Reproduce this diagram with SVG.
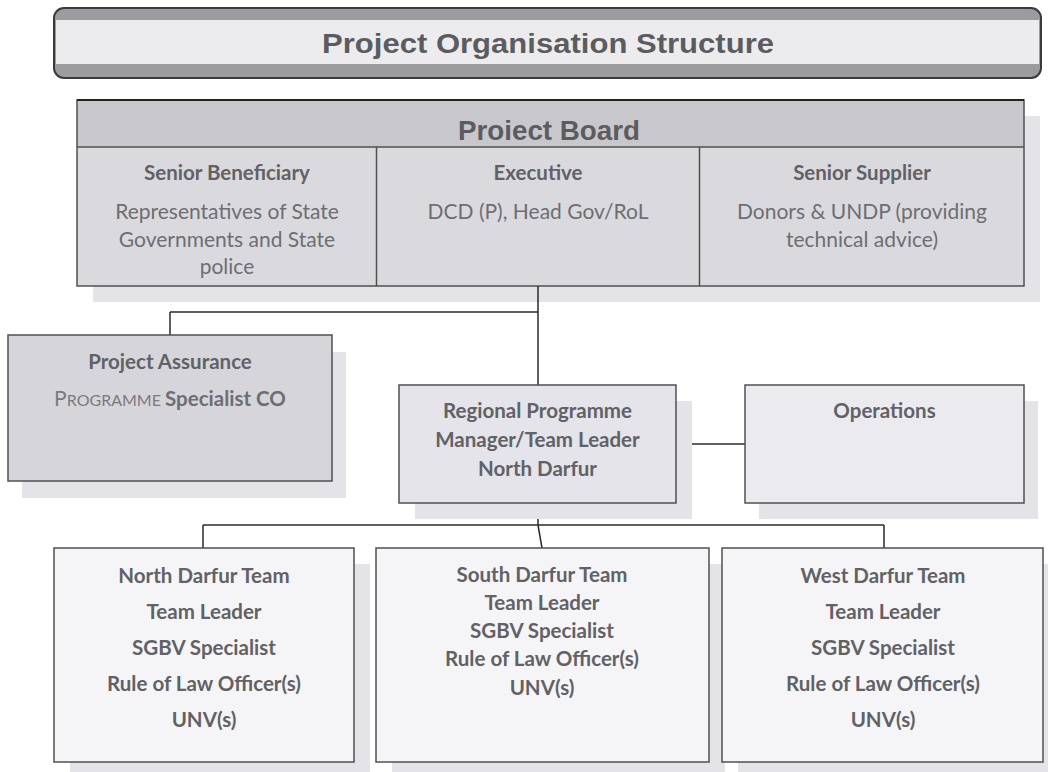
<svg xmlns="http://www.w3.org/2000/svg" width="1048" height="772" viewBox="0 0 1048 772">
<style>
  .t { font-family: Lato, "Open Sans", "Liberation Sans", sans-serif; font-size: 21px; fill: #6e6e72; text-anchor: middle; }
  .b { font-weight: bold; font-size: 20.5px; fill: #616166; }
  .box { stroke: #505050; stroke-width: 1.5; }
  .sh { fill: #e3e3e8; }
  .conn { fill: none; stroke: #2a2a2a; stroke-width: 1.5; }
  .h { font-family: "Liberation Sans", Arial, sans-serif; font-weight: bold; fill: #5c5c60; text-anchor: middle; }
</style>
<rect width="1048" height="772" fill="#ffffff"/>

<g id="title">
  <rect x="54" y="8" width="987" height="70" rx="10" fill="#9c9ca0" stroke="#3a3a3a" stroke-width="2"/>
  <rect x="56" y="20" width="983" height="44" fill="#ececee"/>
  <text class="h" x="548" y="53" font-size="28" textLength="452" lengthAdjust="spacingAndGlyphs">Project Organisation Structure</text>
</g>

<g id="project-board">
  <rect class="sh" x="93" y="116" width="947" height="186"/>
  <rect x="77" y="100" width="947" height="47" fill="#c8c8cc"/>
  <rect x="77" y="147" width="947" height="139" fill="#dadade"/>
  <rect class="box" x="77" y="100" width="947" height="186" fill="none"/>
  <line x1="77" y1="100" x2="1024" y2="100" stroke="#222" stroke-width="2"/>
  <line class="box" x1="77" y1="147" x2="1024" y2="147"/>
  <line class="box" x1="376.5" y1="147" x2="376.5" y2="286"/>
  <line class="box" x1="699.5" y1="147" x2="699.5" y2="286"/>
  <text class="h" x="549" y="140" font-size="28" textLength="182" lengthAdjust="spacingAndGlyphs">Proiect Board</text>
  <text class="t b" x="227" y="180">Senior Beneficiary</text>
  <text class="t" x="227" y="219">Representatives of State</text>
  <text class="t" x="227" y="247">Governments and State</text>
  <text class="t" x="227" y="274">police</text>
  <text class="t b" x="538" y="180">Executive</text>
  <text class="t" x="538" y="219">DCD (P), Head Gov/RoL</text>
  <text class="t b" x="862" y="180">Senior Supplier</text>
  <text class="t" x="862" y="219">Donors &amp; UNDP (providing</text>
  <text class="t" x="862" y="247">technical advice)</text>
</g>

<g id="connectors">
  <path class="conn" d="M538 286 V385"/>
  <path class="conn" d="M170 312 H538"/>
  <path class="conn" d="M170 312 V335"/>
  <path class="conn" d="M676 444 H745"/>
  <path class="conn" d="M538 503 V525"/>
  <path class="conn" d="M203 525 H884"/>
  <path class="conn" d="M203 525 V548"/>
  <path class="conn" d="M884 525 V548"/>
  <path class="conn" d="M538 525 L542 548"/>
</g>

<g id="project-assurance">
  <rect class="sh" x="22" y="352" width="324" height="146"/>
  <rect class="box" x="8" y="335" width="324" height="146" fill="#d6d6da"/>
  <text class="t b" x="170" y="369">Project Assurance</text>
  <text class="t" x="170" y="406"><tspan fill="#7a7a7e">P</tspan><tspan fill="#7a7a7e" font-size="16">ROGRAMME </tspan><tspan font-weight="bold" font-size="20.5">Specialist CO</tspan></text>
</g>

<g id="regional-manager">
  <rect class="sh" x="415" y="401" width="277" height="118"/>
  <rect class="box" x="399" y="385" width="277" height="118" fill="#e4e4ea"/>
  <text class="t b" x="537.5" y="418">Regional Programme</text>
  <text class="t b" x="537.5" y="447">Manager/Team Leader</text>
  <text class="t b" x="537.5" y="476">North Darfur</text>
</g>

<g id="operations">
  <rect class="sh" x="759" y="401" width="279" height="118"/>
  <rect class="box" x="745" y="385" width="279" height="118" fill="#ebebef"/>
  <text class="t b" x="884.5" y="418">Operations</text>
</g>

<g id="north-darfur-team">
  <rect class="sh" x="70" y="564" width="300" height="214"/>
  <rect class="box" x="54" y="548" width="300" height="214" fill="#f5f5f7"/>
  <text class="t b" x="204" y="583">North Darfur Team</text>
  <text class="t b" x="204" y="619">Team Leader</text>
  <text class="t b" x="204" y="655">SGBV Specialist</text>
  <text class="t b" x="204" y="691">Rule of Law Officer(s)</text>
  <text class="t b" x="204" y="727">UNV(s)</text>
</g>

<g id="south-darfur-team">
  <rect class="sh" x="392" y="564" width="333" height="214"/>
  <rect class="box" x="376" y="548" width="333" height="214" fill="#f5f5f7"/>
  <text class="t b" x="542" y="582">South Darfur Team</text>
  <text class="t b" x="542" y="610">Team Leader</text>
  <text class="t b" x="542" y="638">SGBV Specialist</text>
  <text class="t b" x="542" y="666">Rule of Law Officer(s)</text>
  <text class="t b" x="542" y="695">UNV(s)</text>
</g>

<g id="west-darfur-team">
  <rect class="sh" x="738" y="564" width="321" height="214"/>
  <rect class="box" x="722" y="548" width="321" height="214" fill="#f5f5f7"/>
  <text class="t b" x="883" y="583">West Darfur Team</text>
  <text class="t b" x="883" y="619">Team Leader</text>
  <text class="t b" x="883" y="655">SGBV Specialist</text>
  <text class="t b" x="883" y="691">Rule of Law Officer(s)</text>
  <text class="t b" x="883" y="727">UNV(s)</text>
</g>
</svg>
